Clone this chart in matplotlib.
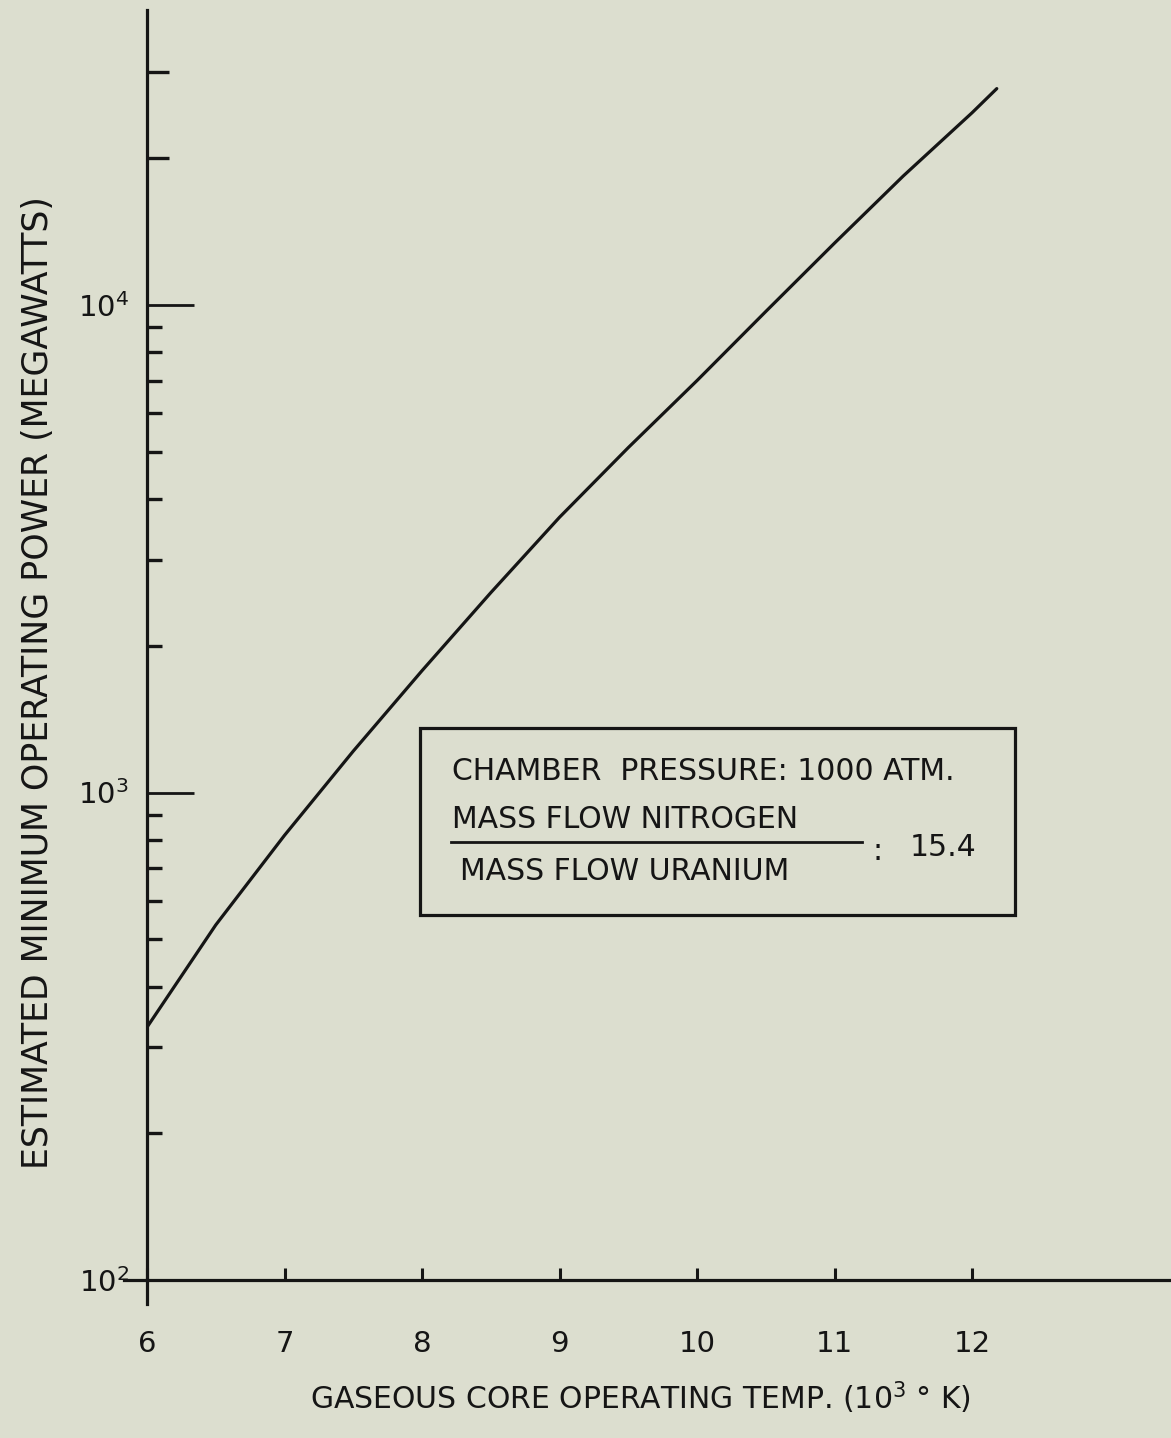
import matplotlib
matplotlib.use("Agg")
import matplotlib.pyplot as plt
from matplotlib.patches import Rectangle
from matplotlib.lines import Line2D
from matplotlib.ticker import FixedLocator, FixedFormatter, NullFormatter

W, H = 1171, 1438
BG = "#dcdecf"
INK = "#151515"

# gaseous core temperature (10^3 K) vs estimated minimum power (MW)
temp = [6.0, 6.5, 7.0, 7.5, 8.0, 8.5, 9.0, 9.5, 10.0, 10.5, 11.0, 11.5, 12.0, 12.18]
power = [330, 535, 817, 1216, 1778, 2570, 3670, 5100, 7000, 9700, 13400, 18400, 24800, 27800]

x_ticks = [6, 7, 8, 9, 10, 11, 12]
x_labels = ["6", "7", "8", "9", "10", "11", "12"]
y_major = [1e2, 1e3, 1e4]
y_labels = [r"10$^{2}$", r"10$^{3}$", r"10$^{4}$"]
y_minor = [m * d for d in (1e2, 1e3) for m in range(2, 10)] + [2e4, 3e4]

plt.rcParams["font.family"] = ["DejaVu Sans"]
plt.rcParams["mathtext.fontset"] = "dejavusans"


def fx(px):
    return px / W


def fy(py):
    return 1 - py / H


fig = plt.figure(figsize=(W / 100, H / 100), dpi=100, facecolor=BG)
ax = fig.add_axes([fx(147), fy(1280), fx(1171) - fx(147), fy(10) - fy(1280)])
ax.set_facecolor(BG)

ax.plot(temp, power, color=INK, lw=2.3, solid_capstyle="round")

ax.set_yscale("log")
ax.set_xlim(6, 13.447)
ax.set_ylim(100, 4.03e4)

for side in ("top", "right"):
    ax.spines[side].set_visible(False)
for side in ("left", "bottom"):
    ax.spines[side].set_linewidth(2.3)
    ax.spines[side].set_color(INK)

ax.xaxis.set_major_locator(FixedLocator(x_ticks))
ax.xaxis.set_major_formatter(FixedFormatter(x_labels))
ax.yaxis.set_major_locator(FixedLocator(y_major))
ax.yaxis.set_major_formatter(FixedFormatter(y_labels))
ax.yaxis.set_minor_locator(FixedLocator(y_minor))
ax.yaxis.set_minor_formatter(NullFormatter())

ax.tick_params(axis="x", direction="in", length=9, width=2.2, color=INK,
               pad=36, labelsize=21, labelcolor=INK)
ax.tick_params(axis="y", which="major", direction="in", length=34, width=2.0,
               color=INK, pad=13, labelsize=21, labelcolor=INK)
ax.tick_params(axis="y", which="minor", direction="in", length=11, width=2.4,
               color=INK)

# the two minor ticks above 10^4 are drawn a little longer
for t, v in zip(ax.yaxis.get_minor_ticks(), y_minor):
    if v > 1e4:
        t.tick1line.set_markersize(16)

# axis lines run a short way past the origin
ax.add_line(Line2D([-0.022, 0], [0, 0], transform=ax.transAxes, color=INK,
                   lw=2.3, clip_on=False))
ax.add_line(Line2D([0, 0], [-0.019, 0], transform=ax.transAxes, color=INK,
                   lw=2.3, clip_on=False))

# parameter box
fig.patches.append(Rectangle((fx(420), fy(915)), fx(1015) - fx(420), fy(728) - fy(915),
                             transform=fig.transFigure, fill=False, ec=INK, lw=2.3))
fig.text(fx(452), fy(772), "CHAMBER  PRESSURE: 1000 ATM.", fontsize=21.5,
         color=INK, ha="left", va="center")
fig.text(fx(452), fy(819), "MASS FLOW NITROGEN", fontsize=21.5,
         color=INK, ha="left", va="center")
fig.lines.append(Line2D([fx(451), fx(862)], [fy(842), fy(842)],
                        transform=fig.transFigure, color=INK, lw=2.0))
fig.text(fx(460), fy(871), "MASS FLOW URANIUM", fontsize=21.5,
         color=INK, ha="left", va="center")
fig.text(fx(878), fy(852), ":", fontsize=21.5, color=INK, ha="center", va="center")
fig.text(fx(910), fy(848), "15.4", fontsize=21.5, color=INK, ha="left", va="center")

fig.text(fx(38), fy(683), "ESTIMATED MINIMUM OPERATING POWER (MEGAWATTS)",
         rotation=90, fontsize=25, color=INK, ha="center", va="center")
fig.text(fx(641), fy(1398), r"GASEOUS CORE OPERATING TEMP. (10$^{3}$ ° K)",
         fontsize=21.5, color=INK, ha="center", va="center")

fig.savefig("out.png", dpi=100, facecolor=BG)
